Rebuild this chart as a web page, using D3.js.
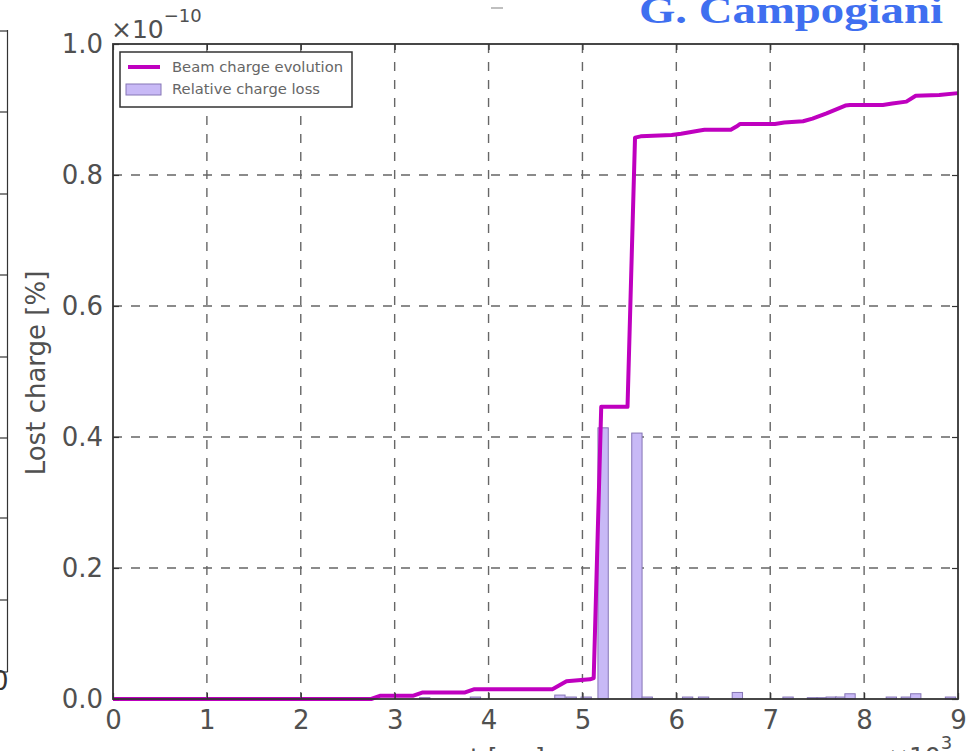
<!DOCTYPE html>
<html>
<head>
<meta charset="utf-8">
<script src="https://cdn.jsdelivr.net/npm/d3@7"></script>
<style>
  html, body { margin: 0; padding: 0; background: #fff; }
  svg { display: block; }
</style>
</head>
<body>
<svg id="chart" width="967" height="751"></svg>
<script>
// Time axis in units of 10^3 ms, charge in units of 10^-10
const xTicks = [0, 1, 2, 3, 4, 5, 6, 7, 8, 9];
const yTicks = [0.0, 0.2, 0.4, 0.6, 0.8, 1.0];

// Beam charge evolution (cumulative lost charge)
const evoT = [0, 2.75, 2.85, 3.2, 3.3, 3.75, 3.85, 4.68, 4.83, 5.08, 5.12, 5.2, 5.48, 5.56, 5.62, 5.95, 6.05, 6.25, 6.3, 6.58, 6.64, 6.68, 7.05, 7.15, 7.35, 7.45, 7.6, 7.8, 7.85, 8.2, 8.3, 8.45, 8.55, 8.8, 9.0];
const evoV = [0, 0, 0.005, 0.005, 0.01, 0.01, 0.015, 0.015, 0.027, 0.03, 0.032, 0.446, 0.446, 0.857, 0.859, 0.861, 0.863, 0.868, 0.869, 0.869, 0.874, 0.878, 0.878, 0.88, 0.882, 0.886, 0.894, 0.906, 0.907, 0.907, 0.909, 0.912, 0.921, 0.922, 0.925];

// Relative charge loss per time bin (bin centre, height)
const lossT = [3.32, 3.86, 4.76, 4.88, 5.04, 5.22, 5.58, 5.69, 6.12, 6.29, 6.65, 7.19, 7.45, 7.55, 7.65, 7.75, 7.85, 8.29, 8.45, 8.55, 8.92];
const lossV = [0.002, 0.003, 0.006, 0.003, 0.003, 0.414, 0.406, 0.003, 0.003, 0.003, 0.01, 0.003, 0.002, 0.002, 0.003, 0.003, 0.008, 0.003, 0.003, 0.008, 0.003];
const binWidth = 0.11;

const seriesNames = ["Beam charge evolution", "Relative charge loss"];
const yLabel = "Lost charge [%]";
const xLabel = "t [ms]";
const author = "G. Campogiani";

const lineColor = "#bf00bf";
const barFill = "#c8b9f6";
const barStroke = "#8676b6";
const textColor = "#505050";

const svg = d3.select("#chart");
const x = d3.scaleLinear().domain([0, 9]).range([113, 958]);
const y = d3.scaleLinear().domain([0, 1]).range([699, 44]);

// partial frame of the neighbouring panel at the left edge
const side = svg.append("g").attr("stroke", "#333").attr("stroke-width", 1.2);
side.append("line").attr("x1", 7.5).attr("x2", 7.5).attr("y1", 30).attr("y2", 672);
[31, 112, 194, 275, 357, 438, 518, 600, 672].forEach(v => {
  side.append("line").attr("x1", 0).attr("x2", 7.5).attr("y1", v).attr("y2", v);
});
svg.append("text").attr("x", -8).attr("y", 690).attr("font-family", "DejaVu Sans")
  .attr("font-size", 26).attr("fill", "#333").text("0");
svg.append("line").attr("x1", 491).attr("x2", 503).attr("y1", 8).attr("y2", 8)
  .attr("stroke", "#aaa").attr("stroke-width", 1.5);

// grid
const grid = svg.append("g").attr("stroke", "#666").attr("stroke-width", 1.4)
  .attr("stroke-dasharray", "9,9");
grid.selectAll("line.v").data(xTicks.slice(1, -1)).join("line").attr("class", "v")
  .attr("x1", d => x(d)).attr("x2", d => x(d)).attr("y1", y(1)).attr("y2", y(0));
grid.selectAll("line.h").data(yTicks.slice(1, -1)).join("line").attr("class", "h")
  .attr("x1", x(0)).attr("x2", x(9)).attr("y1", d => y(d)).attr("y2", d => y(d));

// bars
svg.append("g").selectAll("rect").data(lossT.map((t, i) => ({ t, v: lossV[i] }))).join("rect")
  .attr("x", d => x(d.t - binWidth / 2))
  .attr("width", d => x(d.t + binWidth / 2) - x(d.t - binWidth / 2))
  .attr("y", d => y(d.v))
  .attr("height", d => y(0) - y(d.v))
  .attr("fill", barFill).attr("stroke", barStroke).attr("stroke-width", 1);

// evolution line
const line = d3.line().x(d => x(d[0])).y(d => y(d[1]));
svg.append("path").datum(evoT.map((t, i) => [t, evoV[i]]))
  .attr("d", line).attr("fill", "none").attr("stroke", lineColor)
  .attr("stroke-width", 4).attr("stroke-linejoin", "round");

// axes with inward ticks
const axisFont = g => g.selectAll("text").attr("font-family", "DejaVu Sans")
  .attr("font-size", 26).attr("fill", textColor);
const xAxis = svg.append("g").attr("transform", `translate(0,${y(0)})`)
  .call(d3.axisBottom(x).tickValues(xTicks).tickFormat(d3.format("d")).tickSizeInner(-6).tickSizeOuter(0).tickPadding(12));
xAxis.call(axisFont);
const yAxis = svg.append("g").attr("transform", `translate(${x(0)},0)`)
  .call(d3.axisLeft(y).tickValues(yTicks).tickFormat(d3.format(".1f")).tickSizeInner(-6).tickSizeOuter(0).tickPadding(10));
yAxis.call(axisFont);
svg.append("g").attr("transform", `translate(0,${y(1)})`)
  .call(d3.axisTop(x).tickValues(xTicks).tickFormat("").tickSizeInner(-6).tickSizeOuter(0));
svg.append("g").attr("transform", `translate(${x(9)},0)`)
  .call(d3.axisRight(y).tickValues(yTicks).tickFormat("").tickSizeInner(-6).tickSizeOuter(0));
svg.selectAll(".domain").remove();
svg.selectAll(".tick line").attr("stroke", "#333").attr("stroke-width", 1.2);

// frame
svg.append("rect").attr("x", x(0)).attr("y", y(1)).attr("width", x(9) - x(0)).attr("height", y(0) - y(1))
  .attr("fill", "none").attr("stroke", "#333").attr("stroke-width", 1.8);

// offset labels
const off = svg.append("text").attr("x", x(0) - 2).attr("y", 38)
  .attr("font-family", "DejaVu Sans").attr("fill", textColor).attr("font-size", 25);
off.append("tspan").text("×10");
off.append("tspan").attr("font-size", 18).attr("dy", -16).text("−10");
const offX = svg.append("text").attr("x", 888).attr("y", 765)
  .attr("font-family", "DejaVu Sans").attr("fill", textColor).attr("font-size", 25);
offX.append("tspan").text("×10");
offX.append("tspan").attr("font-size", 18).attr("dy", -16).text("3");

// axis titles
svg.append("text").attr("x", x(4.2)).attr("y", 766).attr("text-anchor", "middle")
  .attr("font-family", "DejaVu Sans").attr("font-size", 25).attr("fill", textColor).text(xLabel);
svg.append("text").attr("transform", "translate(45,373) rotate(-90)").attr("text-anchor", "middle")
  .attr("font-family", "DejaVu Sans").attr("font-size", 26).attr("fill", textColor).text(yLabel);

// legend
const lg = svg.append("g");
lg.append("rect").attr("x", 120).attr("y", 52).attr("width", 232).attr("height", 55)
  .attr("fill", "#fff").attr("stroke", "#333").attr("stroke-width", 1.5);
lg.append("line").attr("x1", 128).attr("x2", 160).attr("y1", 67).attr("y2", 67)
  .attr("stroke", lineColor).attr("stroke-width", 4);
lg.append("rect").attr("x", 126).attr("y", 84).attr("width", 35).attr("height", 11)
  .attr("fill", barFill).attr("stroke", barStroke).attr("stroke-width", 1);
lg.selectAll("text").data(seriesNames).join("text")
  .attr("x", 172).attr("y", (d, i) => 72 + i * 22)
  .attr("font-family", "DejaVu Sans").attr("font-size", 14).attr("fill", "#666")
  .attr("textLength", (d, i) => i === 0 ? 171 : 148).attr("lengthAdjust", "spacingAndGlyphs")
  .text(d => d);

// author tag
svg.append("text").attr("x", 943).attr("y", 23).attr("text-anchor", "end")
  .attr("font-family", "Liberation Serif").attr("font-weight", "bold").attr("font-size", 38)
  .attr("textLength", 304).attr("lengthAdjust", "spacingAndGlyphs")
  .attr("fill", "#3f6ff0").text(author);
</script>
</body>
</html>
